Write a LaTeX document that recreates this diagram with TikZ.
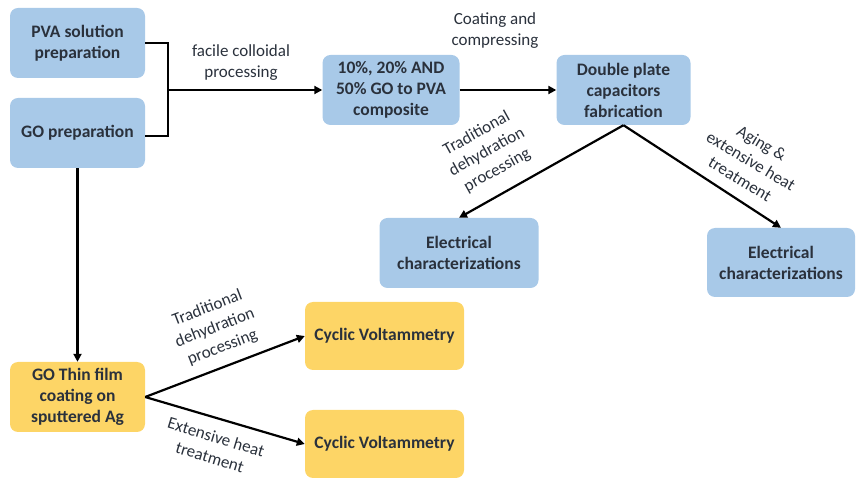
\documentclass[tikz,border=0pt]{standalone}
\usepackage{fontspec}
\setmainfont{Carlito}
\usetikzlibrary{arrows.meta}
\definecolor{boxblue}{HTML}{A8C9E8}
\definecolor{boxgold}{HTML}{FDD566}
\definecolor{txt}{HTML}{2A313C}
\tikzset{
  bluebox/.style={fill=boxblue, rounded corners=8pt, align=center, font=\fontsize{17.5}{21}\selectfont\bfseries, text=txt, inner sep=0pt},
  goldbox/.style={fill=boxgold, rounded corners=8pt, align=center, font=\fontsize{17.5}{21}\selectfont\bfseries, text=txt, inner sep=0pt},
  lbl/.style={align=center, font=\fontsize{17}{21}\selectfont, text=txt, inner sep=0pt},
  conn/.style={draw=black, line width=2.2pt, -{Triangle[length=8pt,width=8pt]}},
  plain/.style={draw=black, line width=2.2pt}
}
\begin{document}
\begin{tikzpicture}[x=1pt,y=1pt]
\useasboundingbox (0,0) rectangle (859,479);
\node[bluebox, minimum width=135pt, minimum height=70pt] (pva) at (77.5,436) {PVA solution\\preparation};
\node[bluebox, minimum width=135pt, minimum height=70pt] (gop) at (77.5,346) {GO preparation};
\node[bluebox, minimum width=137pt, minimum height=70pt] (comp) at (391,389) {10\%, 20\% AND\\50\% GO to PVA\\composite};
\node[bluebox, minimum width=134pt, minimum height=70pt] (dbl) at (623.5,389) {Double plate\\capacitors\\fabrication};
\node[bluebox, minimum width=159pt, minimum height=70pt] (el1) at (459,226) {Electrical\\characterizations};
\node[bluebox, minimum width=148pt, minimum height=69pt] (el2) at (781,216.5) {Electrical\\characterizations};
\node[goldbox, minimum width=135pt, minimum height=70pt] (gotf) at (77.5,82) {GO Thin film\\coating on\\sputtered Ag};
\node[goldbox, minimum width=159pt, minimum height=68pt] (cv1) at (384.5,143) {Cyclic Voltammetry};
\node[goldbox, minimum width=159pt, minimum height=68pt] (cv2) at (384.5,35) {Cyclic Voltammetry};
% bracket
\coordinate (bj) at (168,389);
\draw[plain] (pva.east) -- (168,436) -- (168,343) -- (gop.east |- 0,343);
\draw[conn] (bj) -- (comp.west);
\draw[conn] (comp.east) -- (dbl.west);
\draw[conn] (dbl.south) -- (el1.north);
\draw[conn] (dbl.south) -- (el2.north);
\draw[conn] (gop.south) -- (gotf.north);
\draw[conn] (gotf.east) -- (cv1.west);
\draw[conn] (gotf.east) -- (cv2.west);
% labels
\node[lbl] (l1) at (241,416) {facile colloidal\\processing};
\node[lbl] (l2) at (495,448) {Coating and\\compressing};
\node[lbl, rotate=29] (l3) at (487,327) {Traditional\\dehydration\\processing};
\node[lbl, rotate=-31] (l4) at (751,318) {Aging \&\\extensive heat\\treatment};
\node[lbl, rotate=21] (l5) at (215,151) {Traditional\\dehydration\\processing};
\node[lbl, rotate=-17] (l6) at (213,32) {Extensive heat\\treatment};
\end{tikzpicture}
\end{document}
